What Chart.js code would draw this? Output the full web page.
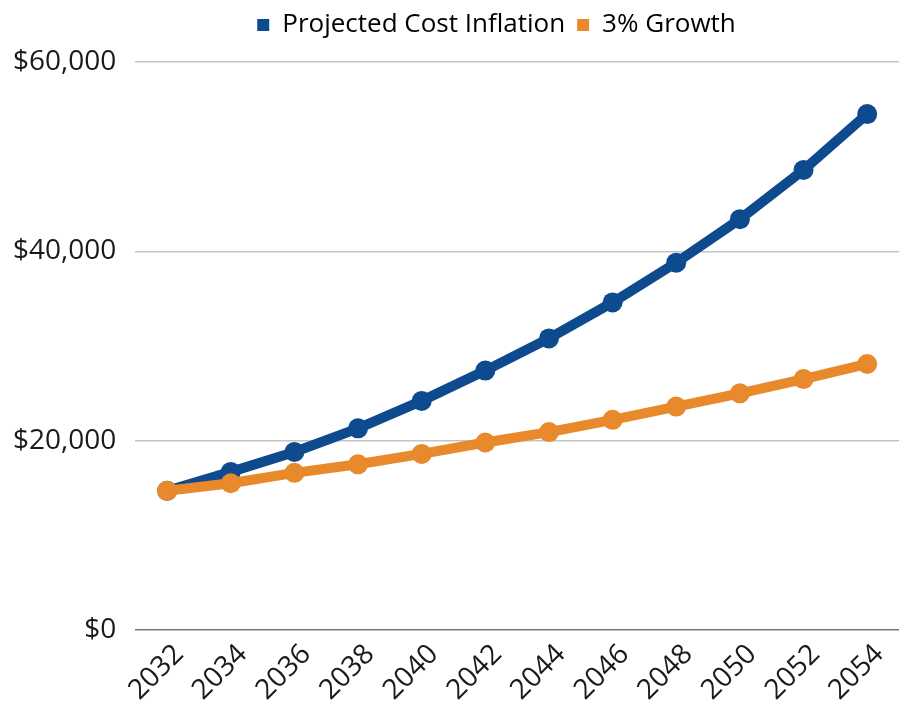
<!DOCTYPE html>
<html>
<head>
<meta charset="utf-8">
<script src="https://cdn.jsdelivr.net/npm/chart.js@4.4.0/dist/chart.umd.min.js"></script>
<style>
  html, body { margin: 0; padding: 0; background: #fff; }
  #wrap { width: 909px; height: 703px; }
</style>
</head>
<body>
<div id="wrap"><canvas id="costChart" width="909" height="703"></canvas></div>
<script>
// ── Data ─────────────────────────────────────────────────────────────────────
const years = ['2032', '2034', '2036', '2038', '2040', '2042', '2044', '2046', '2048', '2050', '2052', '2054'];
const projectedCost = [14700, 16700, 18800, 21300, 24200, 27400, 30800, 34600, 38800, 43400, 48600, 54500];
const growth3 = [14700, 15500, 16600, 17500, 18600, 19800, 20900, 22200, 23600, 25000, 26500, 28100];
const yTicks = [0, 20000, 40000, 60000];

const BLUE = '#0e4a8e';
const ORANGE = '#e8892b';
const FONT = 'Open Sans';

// extra space under the legend, and nudge it right like the original
const legendTweak = {
  id: 'legendTweak',
  beforeInit(chart) {
    const fit = chart.legend.fit;
    chart.legend.fit = function () {
      fit.bind(chart.legend)();
      this.height += 14;
    };
  },
  afterLayout(chart) {
    chart.legend.left += 48;
    chart.legend.right += 48;
  }
};

new Chart(document.getElementById('costChart'), {
  type: 'line',
  data: {
    labels: years,
    datasets: [
      {
        label: 'Projected Cost Inflation',
        data: projectedCost,
        borderColor: BLUE,
        backgroundColor: BLUE,
        borderWidth: 10,
        pointRadius: 10,
        pointBorderWidth: 0,
        tension: 0,
        order: 2
      },
      {
        label: '3% Growth',
        data: growth3,
        borderColor: ORANGE,
        backgroundColor: ORANGE,
        borderWidth: 10,
        pointRadius: 10,
        pointBorderWidth: 0,
        tension: 0,
        order: 1
      }
    ]
  },
  plugins: [legendTweak],
  options: {
    responsive: false,
    animation: false,
    layout: { padding: { left: -6, right: 6, top: 0, bottom: -4 } },
    plugins: {
      tooltip: { enabled: false },
      legend: {
        position: 'top',
        labels: {
          font: { family: FONT, size: 26 },
          color: '#1a1a1a',
          boxWidth: 12,
          boxHeight: 12,
          padding: 12,
          generateLabels: (chart) => chart.data.datasets.map((d, i) => ({
            text: d.label,
            fillStyle: d.borderColor,
            strokeStyle: d.borderColor,
            lineWidth: 0,
            datasetIndex: i
          }))
        }
      }
    },
    scales: {
      x: {
        offset: true,
        grid: { display: false },
        border: { display: false },
        ticks: {
          font: { family: FONT, size: 28 },
          color: '#1a1a1a',
          minRotation: 45,
          maxRotation: 45,
          labelOffset: 12,
          padding: 0
        }
      },
      y: {
        min: 0,
        max: 60000,
        border: { display: false },
        afterBuildTicks: (axis) => { axis.ticks = yTicks.map(v => ({ value: v })); },
        grid: {
          color: (c) => c.tick && c.tick.value === 0 ? '#767676' : '#c4c4c4',
          lineWidth: 1.5,
          drawTicks: false
        },
        ticks: {
          font: { family: FONT, size: 28 },
          color: '#1a1a1a',
          padding: 19,
          callback: (v) => '$' + v.toLocaleString('en-US')
        }
      }
    }
  }
});
</script>
</body>
</html>
